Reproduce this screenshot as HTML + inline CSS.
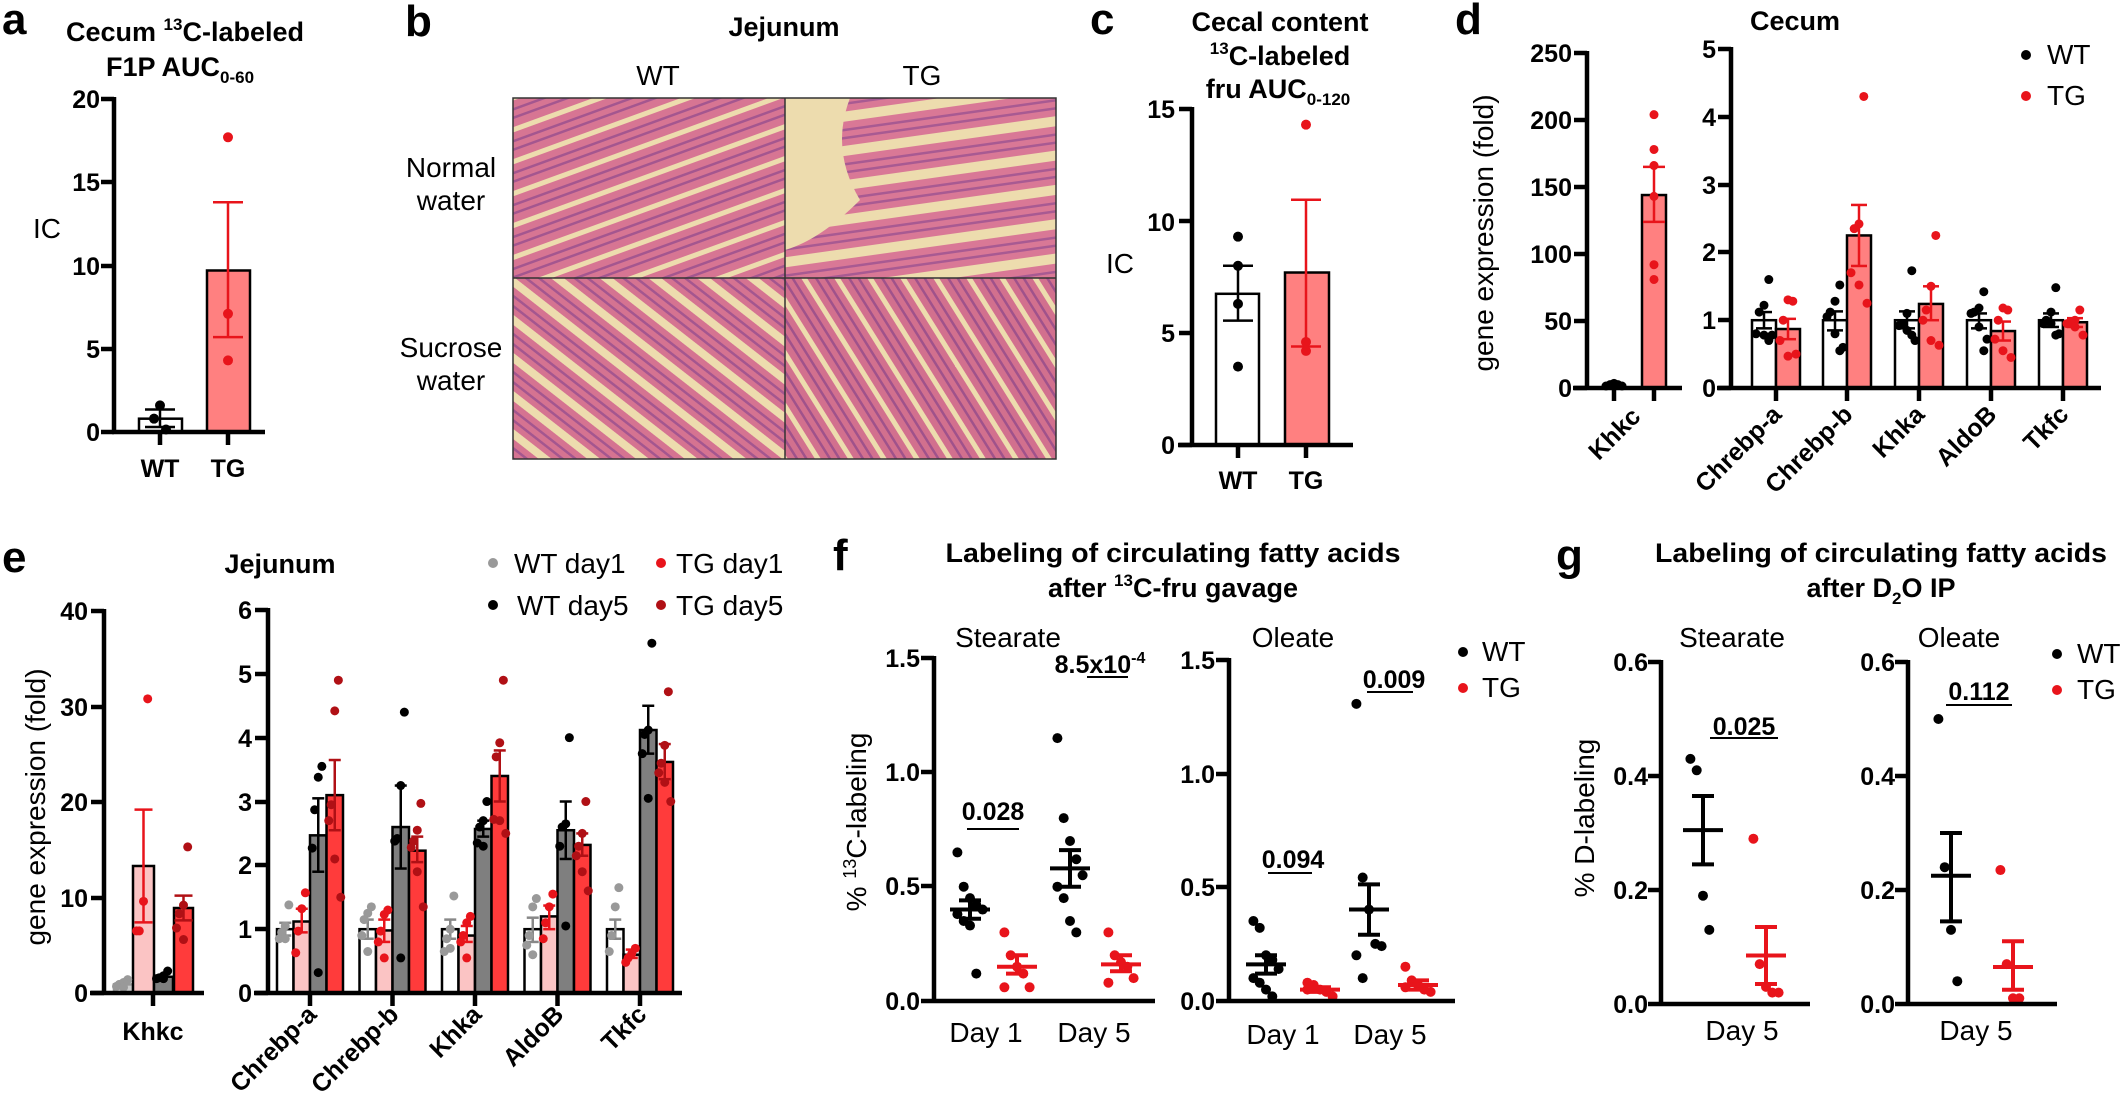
<!DOCTYPE html>
<html><head><meta charset="utf-8"><style>
html,body{margin:0;padding:0;background:#fff}
svg{display:block}
text{font-family:"Liberation Sans",Arial,sans-serif;fill:#000}
.b{font-weight:bold}
.lbl{font-weight:bold;font-size:44px}
.tk{font-weight:bold;font-size:25px}
.ttl{font-weight:bold;font-size:27px}
.rg{font-size:28px}
</style></head><body>
<svg id="s" width="2120" height="1098" viewBox="0 0 2120 1098" xmlns="http://www.w3.org/2000/svg">
<defs>
<pattern id="p1" width="30" height="30" patternUnits="userSpaceOnUse" patternTransform="rotate(-20)">
<rect width="30" height="30" fill="#eddcae"/><rect y="0" width="30" height="25" fill="#d77593"/><rect y="7" width="30" height="2.5" fill="#a4568f"/><rect y="15" width="30" height="2.5" fill="#a4568f"/></pattern>
<pattern id="p2" width="34" height="34" patternUnits="userSpaceOnUse" patternTransform="rotate(-8)">
<rect width="34" height="34" fill="#eddcae"/><rect y="0" width="34" height="24" fill="#d97896"/><rect y="7" width="34" height="2.5" fill="#a85a92"/><rect y="15" width="34" height="2.5" fill="#a85a92"/></pattern>
<pattern id="p3" width="30" height="30" patternUnits="userSpaceOnUse" patternTransform="rotate(38)">
<rect width="30" height="30" fill="#eddcae"/><rect y="0" width="30" height="22" fill="#d57391"/><rect y="6" width="30" height="2.5" fill="#a4568f"/><rect y="14" width="30" height="2.5" fill="#a4568f"/></pattern>
<pattern id="p4" width="28" height="28" patternUnits="userSpaceOnUse" patternTransform="rotate(58)">
<rect width="28" height="28" fill="#eddcae"/><rect y="0" width="28" height="23" fill="#d2708e"/><rect y="6" width="28" height="2.5" fill="#a0528b"/><rect y="14" width="28" height="2.5" fill="#a0528b"/></pattern>
</defs>

<!-- histology -->
<rect x="513" y="98" width="272" height="180" fill="url(#p1)"/>
<rect x="785" y="98" width="271" height="180" fill="url(#p2)"/>
<path d="M785 98 L850 98 Q830 150 860 200 Q820 240 785 250 Z" fill="#eddcae"/>
<rect x="513" y="278" width="272" height="181" fill="url(#p3)"/>
<rect x="785" y="278" width="271" height="181" fill="url(#p4)"/>
<rect x="513" y="98" width="543" height="361" fill="none" stroke="#333" stroke-width="1.5"/>
<line x1="785" y1="98" x2="785" y2="459" stroke="#333" stroke-width="1.5"/>
<line x1="513" y1="278" x2="1056" y2="278" stroke="#333" stroke-width="1.5"/>

<g id="g"></g>

<!-- panel a text -->
<text class="lbl" x="2" y="34">a</text>
<text class="ttl" x="185" y="41" text-anchor="middle">Cecum <tspan font-size="17" dy="-11">13</tspan><tspan dy="11">C-labeled</tspan></text>
<text class="ttl" x="180" y="76" text-anchor="middle">F1P AUC<tspan font-size="17" dy="7">0-60</tspan></text>
<text class="tk" x="100" y="108" text-anchor="end">20</text>
<text class="tk" x="100" y="191" text-anchor="end">15</text>
<text class="tk" x="100" y="275" text-anchor="end">10</text>
<text class="tk" x="100" y="358" text-anchor="end">5</text>
<text class="tk" x="100" y="441" text-anchor="end">0</text>
<text class="rg" x="47" y="238" text-anchor="middle">IC</text>
<text class="tk" x="160" y="477" text-anchor="middle">WT</text>
<text class="tk" x="228" y="477" text-anchor="middle">TG</text>

<!-- panel b text -->
<text class="lbl" x="405" y="36">b</text>
<text class="ttl" x="784" y="36" text-anchor="middle">Jejunum</text>
<text class="rg" x="658" y="85" text-anchor="middle">WT</text>
<text class="rg" x="922" y="85" text-anchor="middle">TG</text>
<text class="rg" x="451" y="177" text-anchor="middle">Normal</text>
<text class="rg" x="451" y="210" text-anchor="middle">water</text>
<text class="rg" x="451" y="357" text-anchor="middle">Sucrose</text>
<text class="rg" x="451" y="390" text-anchor="middle">water</text>

<!-- panel c text -->
<text class="lbl" x="1090" y="34">c</text>
<text class="ttl" x="1280" y="31" text-anchor="middle">Cecal content</text>
<text class="ttl" x="1280" y="65" text-anchor="middle"><tspan font-size="17" dy="-11">13</tspan><tspan dy="11">C-labeled</tspan></text>
<text class="ttl" x="1278" y="98" text-anchor="middle">fru AUC<tspan font-size="17" dy="7">0-120</tspan></text>
<text class="tk" x="1175" y="118" text-anchor="end">15</text>
<text class="tk" x="1175" y="231" text-anchor="end">10</text>
<text class="tk" x="1175" y="342" text-anchor="end">5</text>
<text class="tk" x="1175" y="454" text-anchor="end">0</text>
<text class="rg" x="1120" y="273" text-anchor="middle">IC</text>
<text class="tk" x="1238" y="489" text-anchor="middle">WT</text>
<text class="tk" x="1306" y="489" text-anchor="middle">TG</text>

<!-- panel d text -->
<text class="lbl" x="1455" y="34">d</text>
<text class="ttl" x="1795" y="30" text-anchor="middle">Cecum</text>
<text class="rg" transform="translate(1493,233) rotate(-90)" text-anchor="middle">gene expression (fold)</text>
<text class="tk" x="1572" y="62" text-anchor="end">250</text>
<text class="tk" x="1572" y="129" text-anchor="end">200</text>
<text class="tk" x="1572" y="196" text-anchor="end">150</text>
<text class="tk" x="1572" y="263" text-anchor="end">100</text>
<text class="tk" x="1572" y="330" text-anchor="end">50</text>
<text class="tk" x="1572" y="397" text-anchor="end">0</text>
<text class="tk" x="1716" y="58" text-anchor="end">5</text>
<text class="tk" x="1716" y="126" text-anchor="end">4</text>
<text class="tk" x="1716" y="194" text-anchor="end">3</text>
<text class="tk" x="1716" y="261" text-anchor="end">2</text>
<text class="tk" x="1716" y="329" text-anchor="end">1</text>
<text class="tk" x="1716" y="397" text-anchor="end">0</text>
<text class="tk" font-size="22" transform="translate(1642,418) rotate(-45)" text-anchor="end">Khkc</text>
<text class="tk" font-size="22" transform="translate(1783,416) rotate(-45)" text-anchor="end">Chrebp-a</text>
<text class="tk" font-size="22" transform="translate(1854,416) rotate(-45)" text-anchor="end">Chrebp-b</text>
<text class="tk" font-size="22" transform="translate(1926,416) rotate(-45)" text-anchor="end">Khka</text>
<text class="tk" font-size="22" transform="translate(1998,416) rotate(-45)" text-anchor="end">AldoB</text>
<text class="tk" font-size="22" transform="translate(2070,416) rotate(-45)" text-anchor="end">Tkfc</text>
<text class="rg" x="2047" y="64">WT</text>
<text class="rg" x="2047" y="105">TG</text>

<!-- panel e text -->
<text class="lbl" x="2" y="572">e</text>
<text class="ttl" x="280" y="573" text-anchor="middle">Jejunum</text>
<text class="rg" x="514" y="573">WT day1</text>
<text class="rg" x="676" y="573">TG day1</text>
<text class="rg" x="517" y="615">WT day5</text>
<text class="rg" x="676" y="615">TG day5</text>
<text class="rg" transform="translate(45,807) rotate(-90)" text-anchor="middle">gene expression (fold)</text>
<text class="tk" x="88" y="620" text-anchor="end">40</text>
<text class="tk" x="88" y="716" text-anchor="end">30</text>
<text class="tk" x="88" y="811" text-anchor="end">20</text>
<text class="tk" x="88" y="907" text-anchor="end">10</text>
<text class="tk" x="88" y="1002" text-anchor="end">0</text>
<text class="tk" x="252" y="619" text-anchor="end">6</text>
<text class="tk" x="252" y="683" text-anchor="end">5</text>
<text class="tk" x="252" y="747" text-anchor="end">4</text>
<text class="tk" x="252" y="811" text-anchor="end">3</text>
<text class="tk" x="252" y="874" text-anchor="end">2</text>
<text class="tk" x="252" y="938" text-anchor="end">1</text>
<text class="tk" x="252" y="1002" text-anchor="end">0</text>
<text class="tk" font-size="23" x="153" y="1040" text-anchor="middle">Khkc</text>
<text class="tk" font-size="23" transform="translate(318,1016) rotate(-45)" text-anchor="end">Chrebp-a</text>
<text class="tk" font-size="23" transform="translate(400,1016) rotate(-45)" text-anchor="end">Chrebp-b</text>
<text class="tk" font-size="23" transform="translate(483,1016) rotate(-45)" text-anchor="end">Khka</text>
<text class="tk" font-size="23" transform="translate(565,1016) rotate(-45)" text-anchor="end">AldoB</text>
<text class="tk" font-size="23" transform="translate(648,1016) rotate(-45)" text-anchor="end">Tkfc</text>

<!-- panel f text -->
<text class="lbl" x="833" y="570">f</text>
<text class="ttl" x="1173" y="562" text-anchor="middle" textLength="455" lengthAdjust="spacingAndGlyphs">Labeling of circulating fatty acids</text>
<text class="ttl" x="1173" y="597" text-anchor="middle">after <tspan font-size="17" dy="-11">13</tspan><tspan dy="11">C-fru gavage</tspan></text>
<text class="rg" x="1008" y="647" text-anchor="middle">Stearate</text>
<text class="rg" x="1293" y="647" text-anchor="middle">Oleate</text>
<text class="rg" transform="translate(866,822) rotate(-90)" text-anchor="middle">% <tspan font-size="18" dy="-10">13</tspan><tspan dy="10">C-labeling</tspan></text>
<text class="tk" x="920" y="667" text-anchor="end">1.5</text>
<text class="tk" x="920" y="781" text-anchor="end">1.0</text>
<text class="tk" x="920" y="895" text-anchor="end">0.5</text>
<text class="tk" x="920" y="1010" text-anchor="end">0.0</text>
<text class="tk" x="1215" y="669" text-anchor="end">1.5</text>
<text class="tk" x="1215" y="783" text-anchor="end">1.0</text>
<text class="tk" x="1215" y="896" text-anchor="end">0.5</text>
<text class="tk" x="1215" y="1010" text-anchor="end">0.0</text>
<text class="rg" x="986" y="1042" text-anchor="middle">Day 1</text>
<text class="rg" x="1094" y="1042" text-anchor="middle">Day 5</text>
<text class="rg" x="1283" y="1044" text-anchor="middle">Day 1</text>
<text class="rg" x="1390" y="1044" text-anchor="middle">Day 5</text>
<text class="tk" x="993" y="820" text-anchor="middle">0.028</text>
<text class="tk" x="1100" y="673" text-anchor="middle">8.5x10<tspan font-size="16" dy="-10">-4</tspan></text>
<text class="tk" x="1293" y="868" text-anchor="middle">0.094</text>
<text class="tk" x="1394" y="688" text-anchor="middle">0.009</text>
<text class="rg" x="1482" y="661">WT</text>
<text class="rg" x="1482" y="697">TG</text>

<!-- panel g text -->
<text class="lbl" x="1556" y="570">g</text>
<text class="ttl" x="1881" y="562" text-anchor="middle" textLength="452" lengthAdjust="spacingAndGlyphs">Labeling of circulating fatty acids</text>
<text class="ttl" x="1881" y="597" text-anchor="middle">after D<tspan font-size="17" dy="7">2</tspan><tspan dy="-7">O IP</tspan></text>
<text class="rg" x="1732" y="647" text-anchor="middle">Stearate</text>
<text class="rg" x="1959" y="647" text-anchor="middle">Oleate</text>
<text class="rg" transform="translate(1594,818) rotate(-90)" text-anchor="middle">% D-labeling</text>
<text class="tk" x="1648" y="671" text-anchor="end">0.6</text>
<text class="tk" x="1648" y="785" text-anchor="end">0.4</text>
<text class="tk" x="1648" y="899" text-anchor="end">0.2</text>
<text class="tk" x="1648" y="1013" text-anchor="end">0.0</text>
<text class="tk" x="1895" y="671" text-anchor="end">0.6</text>
<text class="tk" x="1895" y="785" text-anchor="end">0.4</text>
<text class="tk" x="1895" y="899" text-anchor="end">0.2</text>
<text class="tk" x="1895" y="1013" text-anchor="end">0.0</text>
<text class="rg" x="1742" y="1040" text-anchor="middle">Day 5</text>
<text class="rg" x="1976" y="1040" text-anchor="middle">Day 5</text>
<text class="tk" x="1744" y="735" text-anchor="middle">0.025</text>
<text class="tk" x="1979" y="700" text-anchor="middle">0.112</text>
<text class="rg" x="2077" y="663">WT</text>
<text class="rg" x="2077" y="699">TG</text>
</svg>
<script>
var G=document.getElementById('g'),NS='http://www.w3.org/2000/svg';
function el(t,a){var e=document.createElementNS(NS,t);for(var k in a)e.setAttribute(k,a[k]);G.appendChild(e);return e;}
function L(x1,y1,x2,y2,c,w){el('line',{x1:x1,y1:y1,x2:x2,y2:y2,stroke:c||'#000','stroke-width':w||4});}
function D(x,y,c,r){el('circle',{cx:x,cy:y,r:r||5,fill:c});}
function yaxis(x,ytop,ybot,ticks){L(x,ytop-2,x,ybot+2,'#000',4.5);ticks.forEach(function(t){L(x-13,t,x,t,'#000',4.5);});}
function xaxis(x1,x2,y,ticks){L(x1,y,x2,y,'#000',4.5);(ticks||[]).forEach(function(t){L(t,y,t,y+13,'#000',4.5);});}
function bar(x0,x1,y0,yt,fill,stroke){el('rect',{x:x0,y:Math.min(yt,y0),width:x1-x0,height:Math.abs(y0-yt),fill:fill,stroke:stroke||'#000','stroke-width':2.5});}
function err(x,ylo,yhi,c,cw,w){L(x,ylo,x,yhi,c,w||2.5);L(x-cw/2,ylo,x+cw/2,ylo,c,w||2.5);L(x-cw/2,yhi,x+cw/2,yhi,c,w||2.5);}
function pts(xc,vals,Y,c,sp,r){var n=vals.length;vals.forEach(function(v,i){var off=n>1?((i%3)-1)*sp*(i%2?1:-0.6):0;D(xc+off,Y(v),c,r);});}
var RED='#e8141b';
(function(){var Y=function(v){return 432-v*16.65};
bar(139,182,432,Y(0.8),'#fff');bar(207,250,432,Y(9.7),'#ff8080');
err(160,Y(0.3),Y(1.35),'#000',30);err(228,Y(5.7),Y(13.8),RED,30);
[1.6,0.8,0.15].forEach(function(v,i){D(160+[0,-6,6][i],Y(v),'#000')});
[17.7,7.1,4.3].forEach(function(v){D(228,Y(v),RED)});
yaxis(114,99,432,[99,182,266,349,432]);xaxis(112,265,432,[160,228]);})();
(function(){var Y=function(v){return 445-v*22.4};
bar(1216,1259,445,Y(6.75),'#fff');bar(1285,1329,445,Y(7.7),'#ff8080');
err(1238,Y(5.55),Y(8.0),'#000',30);err(1306,Y(4.4),Y(10.95),RED,30);
[9.3,8.0,6.3,3.5].forEach(function(v){D(1238,Y(v),'#000')});
[14.3,4.6,4.2].forEach(function(v){D(1306,Y(v),RED)});
yaxis(1192,109,445,[109,221,333,445]);xaxis(1178,1353,445,[1238,1306]);})();
(function(){var Y1=function(v){return 388-v*1.34};
bar(1603,1625,388,Y1(1),'#fff');bar(1642,1666,388,Y1(144),'#ff8080');
err(1654,Y1(124),Y1(165),RED,22);
[0,1,2,1,0].forEach(function(v,i){D(1606+i*4,Y1(v)-2,'#000',4.5)});
[204,178,166,143,92,81].forEach(function(v){D(1654,Y1(v),RED,4.5)});
yaxis(1587,53,388,[53,120,187,254,321,388]);xaxis(1573,1682,388,[1614,1654]);
var Y=function(v){return 388-v*67.8};
var T=[1776,1847,1919,1991,2063];
var W=[[1,.88,1.12],[1,.85,1.13],[1,.88,1.13],[1,.88,1.1],[1,.9,1.1]];
var R=[[.87,.72,1.02],[2.25,1.8,2.7],[1.24,1,1.5],[.84,.7,.98],[.97,.9,1.03]];
var WP=[[1.6,1.22,1.12,.8,.78,.78,.7],[1.52,1.28,1.12,1.05,.8,.6,.55],[1.73,1.1,.95,.92,.85,.7,.78],[1.42,1.18,1.12,1.1,.9,.72,.55],[1.48,1.12,1,.95,.95,.8,.78]];
var RP=[[1.28,1.3,1,.7,.47,.5],[4.3,2.42,2.35,1.7,1.52,1.25],[2.25,1.5,1.15,1,.7,.63],[1.15,1.18,1,.72,.55,.45],[1.15,1,.97,.95,.9,.78]];
T.forEach(function(t,i){bar(t-24,t,388,Y(W[i][0]),'#fff');bar(t,t+24,388,Y(R[i][0]),'#ff8080');
err(t-12,Y(W[i][1]),Y(W[i][2]),'#000',16);err(t+12,Y(R[i][1]),Y(R[i][2]),RED,16);
pts(t-12,WP[i],Y,'#000',8,4.5);pts(t+12,RP[i],Y,RED,8,4.5);});
yaxis(1731,49,388,[49,117,185,252,320,388]);xaxis(1717,2101,388,T);
D(2026,55,'#000',5);D(2026,96,RED,5);})();
var C1='#999',C2=RED,C3='#000',C4='#b01015';
(function(){var Y=function(v){return 993-v*9.55};
bar(114,133,993,Y(.9),'#ccc','#999');bar(133,154,993,Y(13.3),'#fbc4c4');bar(154,173,993,Y(1.7),'#7f7f7f');bar(174,193,993,Y(8.9),'#ff3b3b');
err(143.5,Y(7.4),Y(19.2),RED,18);err(183.5,Y(7.6),Y(10.2),C4,18);
pts(123.5,[1.4,1.1,.9,.7,.6],Y,C1,7,4.5);pts(143.5,[30.8,9.6,6.5,6.5],Y,C2,7,4.5);pts(163.5,[2.3,1.8,1.6,1.5,1.5],Y,C3,7,4.5);pts(183.5,[15.3,9.2,8.3,6.8,5.6],Y,C4,7,4.5);
yaxis(104,611,993,[611,707,802,898,993]);xaxis(90,204,993,[153]);
var Z=function(v){return 993-v*63.83};var T=[310,392.5,475,557.5,640];
var M=[[[1,.9,1.1],[1.12,.95,1.32],[2.47,1.9,3.05],[3.1,2.55,3.65]],
[[1,.85,1.15],[.98,.8,1.15],[2.6,1.95,3.25],[2.23,2.05,2.45]],
[[1,.85,1.15],[.9,.8,1.05],[2.57,2.45,2.7],[3.4,3,3.8]],
[[1,.8,1.18],[1.2,1,1.37],[2.55,2.1,3],[2.32,2.15,2.5]],
[[1,.85,1.15],[.6,.55,.68],[4.12,3.75,4.5],[3.62,3.35,3.9]]];
var P=[[[1.38,1.05,.95,.85,.85],[1.57,1.32,.97,.63],[3.55,3.38,2.87,2.27,.32],[4.9,4.42,2.95,2.7,2.1,1.5]],
[[1.35,1.25,1.15,.9,.65],[1.3,1.23,.97,.8,.55],[4.4,3.25,2.42,2.38,.55],[2.97,2.55,2.38,2.28,1.9,1.35]],
[[1.52,1,.85,.65,.7],[1.2,1.1,.9,.8,.55],[3,2.7,2.6,2.35,2.3],[4.9,3.92,3.7,2.72,2.7,2.5]],
[[1.48,1.35,.9,.75,.6],[1.55,1.35,1.1,.85],[4,2.65,2.6,2.3,1.05],[3,2.5,2.3,2.15,1.9,1.6]],
[[1.65,1.35,.9,.65],[.7,.62,.55,.48],[5.48,4.12,4.05,3.75,3.05],[4.72,3.88,3.6,3.45,3.3,3]]];
var F=['#fff','#fbc4c4','#7f7f7f','#ff3b3b'],EC=['#888',RED,'#000',C4],PC=[C1,C2,C3,C4];
T.forEach(function(t,i){for(var j=0;j<4;j++){var x0=t-33+j*16.5;bar(x0,x0+16.5,993,Z(M[i][j][0]),F[j]);}
for(var j=0;j<4;j++){var xc=t-33+j*16.5+8.25;err(xc,Z(M[i][j][1]),Z(M[i][j][2]),EC[j],12);pts(xc,P[i][j],Z,PC[j],6,4.5);}});
yaxis(268,610,993,[610,674,738,802,865,929,993]);xaxis(254,682,993,T);
D(493,563,C1,5);D(661,563,C2,5);D(493,605,C3,5);D(661,605,C4,5);})();
function sc(xc,mean,lo,hi,vals,Y,c){var sp=9;vals.forEach(function(v,i){var off=((i%5)-2)*sp*0.7;D(xc+off,Y(v),c,5);});
L(xc-20,Y(mean),xc+20,Y(mean),c,4);L(xc,Y(lo),xc,Y(hi),c,4);L(xc-11,Y(lo),xc+11,Y(lo),c,4);L(xc-11,Y(hi),xc+11,Y(hi),c,4);}
(function(){var Y=function(v){return 1001-v*228.6};
sc(970,.4,.36,.44,[.65,.5,.45,.42,.4,.38,.35,.33,.12],Y,'#000');
sc(1017,.15,.12,.2,[.3,.2,.15,.12,.06,.06],Y,RED);
sc(1070,.58,.5,.66,[1.15,.8,.7,.62,.55,.5,.45,.35,.3],Y,'#000');
sc(1121,.16,.13,.2,[.3,.2,.17,.15,.1,.08],Y,RED);
yaxis(934,658,1001,[658,772,886,1001]);xaxis(934,1155,1001);
L(967,829,1019,829,'#000',2);L(1087,677,1128,677,'#000',2);
sc(1266,.16,.12,.2,[.35,.32,.2,.18,.14,.1,.08,.05,.02],Y,'#000');
sc(1320,.05,.04,.06,[.08,.07,.05,.04,.02,.05],Y,RED);
sc(1369,.4,.29,.51,[1.3,.54,.4,.25,.24,.2,.1],Y,'#000');
sc(1418,.07,.05,.09,[.15,.09,.07,.05,.04,.06],Y,RED);
yaxis(1229,660,1001,[660,774,887,1001]);xaxis(1229,1455,1001);
L(1268,873,1312,873,'#000',2);L(1367,692,1413,692,'#000',2);
D(1463,652,'#000',5);D(1463,688,RED,5);})();
(function(){var Y=function(v){return 1004-v*570};
sc(1703,.305,.245,.365,[.43,.41,.19,.13],Y,'#000');
sc(1766,.085,.035,.135,[.29,.07,.03,.02,.02],Y,RED);
yaxis(1661,662,1004,[662,776,890,1004]);xaxis(1661,1810,1004);
L(1710,738,1778,738,'#000',2);
sc(1951,.225,.145,.3,[.5,.24,.13,.04],Y,'#000');
sc(2013,.065,.025,.11,[.235,.07,.01,.01],Y,RED);
yaxis(1908,662,1004,[662,776,890,1004]);xaxis(1908,2057,1004);
L(1946,705,2012,705,'#000',2);
D(2057,654,'#000',5);D(2057,690,RED,5);})();
</script>
</body></html>
